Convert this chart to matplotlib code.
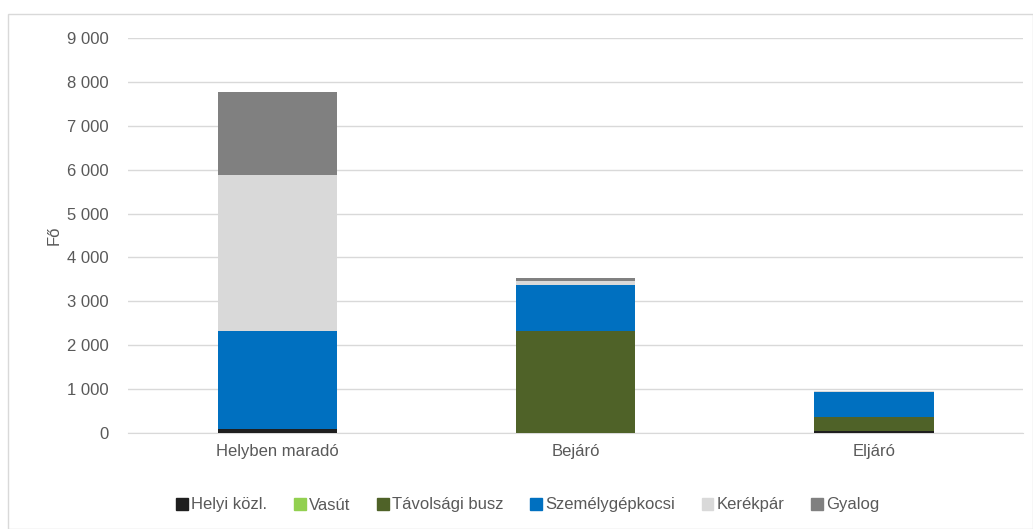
import matplotlib.pyplot as plt
import matplotlib.patches as mpatches
import numpy as np

# data
categories = ['Helyben maradó', 'Bejáró', 'Eljáró']
modes = ['Helyi közl.', 'Vasút', 'Távolsági busz', 'Személygépkocsi', 'Kerékpár', 'Gyalog']
helyi_kozl = [80, 0, 40]
vasut = [0, 0, 0]
tavolsagi_busz = [0, 2330, 320]
szemelygepkocsi = [2250, 1050, 580]
kerekpar = [3550, 80, 10]
gyalog = [1880, 70, 10]
series = [helyi_kozl, vasut, tavolsagi_busz, szemelygepkocsi, kerekpar, gyalog]
colors = ['#1f1f1f', '#92d050', '#4f6228', '#0070c0', '#d9d9d9', '#808080']
yticks = list(range(0, 9001, 1000))

plt.rcParams['font.family'] = ['Liberation Sans Narrow', 'Liberation Sans', 'DejaVu Sans']

fig = plt.figure(figsize=(10.33, 5.29), dpi=100)
# light frame around the whole chart
fig.patches.append(mpatches.Rectangle((8 / 1033, 0), 1 - 8 / 1033, 1 - 14 / 529,
                                      transform=fig.transFigure, fill=False,
                                      edgecolor='#d9d9d9', linewidth=1))
ax = fig.add_axes([128 / 1033, 1 - 433 / 529, (1023 - 128) / 1033, (433 - 38) / 529])

x = np.arange(len(categories))
bottom = np.zeros(len(categories))
handles = []
for name, vals, col in zip(modes, series, colors):
    vals = np.array(vals, dtype=float)
    ax.bar(x, vals, width=0.4, bottom=bottom, color=col, zorder=3)
    bottom += vals
    handles.append(mpatches.Patch(color=col, label=name))

ax.set_xlim(-0.5, 2.5)
ax.set_ylim(0, 9000)
ax.set_yticks(yticks)
ax.set_yticklabels([f'{v:,}'.replace(',', ' ') for v in yticks])
ax.set_xticks(x)
ax.set_xticklabels(categories)
ax.tick_params(axis='both', length=0, colors='#595959', labelsize=12)
ax.tick_params(axis='y', pad=14)
ax.tick_params(axis='x', pad=8)
ax.grid(axis='y', color='#d9d9d9', linewidth=1, zorder=0)
for s in ['top', 'right', 'left']:
    ax.spines[s].set_visible(False)
ax.spines['bottom'].set_color('#d9d9d9')
ax.set_ylabel('Fő', color='#595959', fontsize=12, labelpad=4)

fig.legend(handles=handles, loc='center', bbox_to_anchor=(528 / 1033, 1 - 505 / 529),
           ncol=6, frameon=False, fontsize=12, labelcolor='#595959',
           handlelength=0.7, handleheight=0.7, handletextpad=0.2, columnspacing=1.6)

fig.savefig('out.png', dpi=100)
